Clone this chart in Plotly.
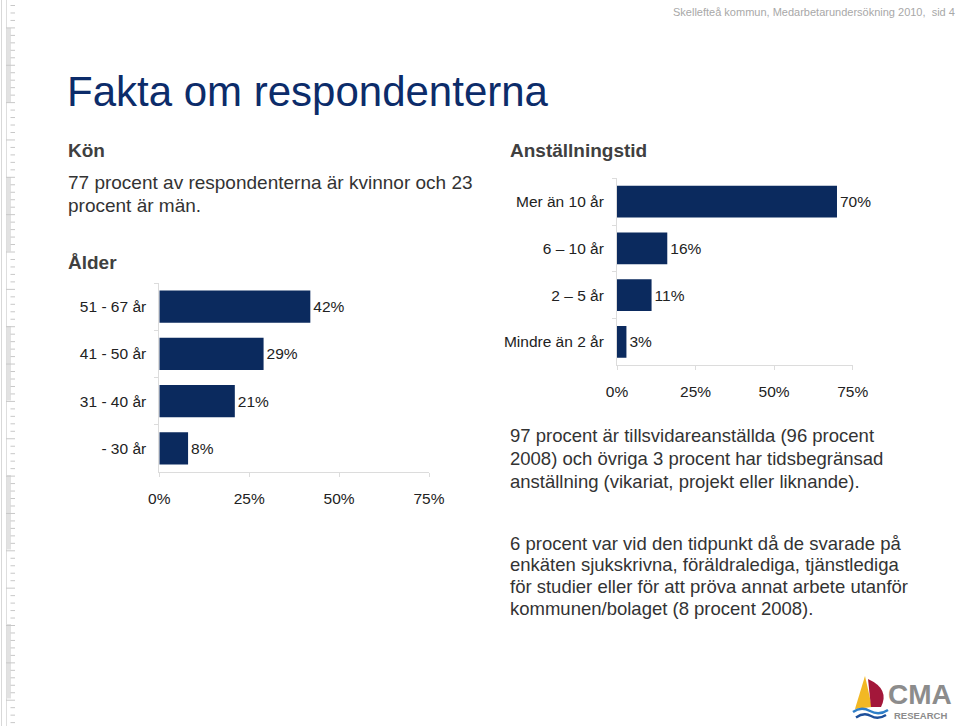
import plotly.graph_objects as go

# ---- data ----
age_categories = ["51 - 67 år", "41 - 50 år", "31 - 40 år", "- 30 år"]
age_values = [42, 29, 21, 8]
tenure_categories = ["Mer än 10 år", "6 – 10 år", "2 – 5 år", "Mindre än 2 år"]
tenure_values = [70, 16, 11, 3]
tick_values = [0, 25, 50, 75]
tick_labels = ["0%", "25%", "50%", "75%"]

W, H = 960, 726
FONT = "Liberation Sans, Arial, sans-serif"
BAR = "#0b2a5e"
AXC = "#dcdcdc"


def px(x):
    return x / W


def py(y):
    return 1 - y / H


fig = go.Figure()

fig.add_trace(go.Bar(
    x=age_values, y=age_categories, orientation="h",
    marker=dict(color=BAR, line=dict(width=0)),
    text=[f"{v}%" for v in age_values], textposition="outside",
    textfont=dict(family=FONT, size=15.5, color="#222222"),
    cliponaxis=False, xaxis="x", yaxis="y", showlegend=False,
))
fig.add_trace(go.Bar(
    x=tenure_values, y=tenure_categories, orientation="h",
    marker=dict(color=BAR, line=dict(width=0)),
    text=[f"{v}%" for v in tenure_values], textposition="outside",
    textfont=dict(family=FONT, size=15.5, color="#222222"),
    cliponaxis=False, xaxis="x2", yaxis="y2", showlegend=False,
))

xcommon = dict(range=[0, 75], tickvals=tick_values, ticktext=tick_labels,
               showgrid=False, zeroline=False, showline=True, linecolor=AXC,
               linewidth=1, ticks="outside", ticklen=4, tickcolor=AXC,
               tickfont=dict(family=FONT, size=15.5, color="#222222"),
               ticklabelstandoff=8, fixedrange=True, automargin=False)
ycommon = dict(showgrid=False, zeroline=False, showline=True, linecolor=AXC,
               linewidth=1, ticks="outside", ticklen=4, tickcolor=AXC,
               tickson="boundaries", autorange="reversed",
               tickfont=dict(family=FONT, size=15.5, color="#222222"),
               ticklabelstandoff=9, fixedrange=True, automargin=False)

fig.update_layout(
    template="none",
    width=W, height=H, autosize=False,
    margin=dict(l=0, r=0, t=0, b=0, pad=0),
    paper_bgcolor="white", plot_bgcolor="white",
    bargap=0.32,
    xaxis=dict(domain=[px(159.3), px(429)], anchor="y", **xcommon),
    yaxis=dict(domain=[py(472), py(283)], anchor="x",
               categoryorder="array", categoryarray=age_categories, **ycommon),
    xaxis2=dict(domain=[px(617), px(852.7)], anchor="y2", **xcommon),
    yaxis2=dict(domain=[py(365.3), py(178.3)], anchor="x2",
                categoryorder="array", categoryarray=tenure_categories, **ycommon),
)

ann = []


def text(x, y, s, size, color="#333333", bold=False, anchor="left", family=FONT):
    if bold:
        s = f"<b>{s}</b>"
    ann.append(dict(x=px(x), y=py(y), xref="paper", yref="paper", text=s,
                    showarrow=False, xanchor=anchor, yanchor="middle",
                    font=dict(family=family, size=size, color=color)))


text(957, 12, "Skellefteå kommun, Medarbetarundersökning 2010,  sid 4", 11, "#a8a8a8", anchor="right")
text(65, 92, "Fakta om respondenterna", 42, "#0c2c6a")
text(66, 151, "Kön", 19, "#404040", bold=True)
text(66, 183, "77 procent av respondenterna är kvinnor och 23", 19)
text(66, 205, "procent är män.", 19)
text(66, 263, "Ålder", 19, "#404040", bold=True)
text(508, 151, "Anställningstid", 19, "#404040", bold=True)

para1 = ["97 procent är tillsvidareanställda (96 procent",
         "2008) och övriga 3 procent har tidsbegränsad",
         "anställning (vikariat, projekt eller liknande)."]
for i, line in enumerate(para1):
    text(508, 435 + i * 23.3, line, 18.5)
para2 = ["6 procent var vid den tidpunkt då de svarade på",
         "enkäten sjukskrivna, föräldralediga, tjänstlediga",
         "för studier eller för att pröva annat arbete utanför",
         "kommunen/bolaget (8 procent 2008)."]
for i, line in enumerate(para2):
    text(508, 543 + i * 21.8, line, 18.5)

# logo text
text(920, 694, "CMA", 28, "#8c8c8c", bold=True, anchor="center")
text(920, 715, "RESEARCH", 9.5, "#8c8c8c", bold=True, anchor="center")

fig.update_layout(annotations=ann)

shapes = []


def P(x, y):
    return f"{px(x):.5f},{py(y):.5f}"


# logo sails and waves
shapes.append(dict(type="path", xref="paper", yref="paper",
                   path=f"M {P(865,676)} L {P(855,709)} L {P(872,707)} Z",
                   fillcolor="#f2b824", line=dict(width=0)))
shapes.append(dict(type="path", xref="paper", yref="paper",
                   path=f"M {P(868,679)} Q {P(890,689)} {P(881,707)} L {P(871,707)} Z",
                   fillcolor="#a3173a", line=dict(width=0)))
shapes.append(dict(type="path", xref="paper", yref="paper",
                   path=f"M {P(853,712)} Q {P(861,706)} {P(870,711)} T {P(888,710)}",
                   line=dict(color="#2f7fc8", width=2.4)))
shapes.append(dict(type="path", xref="paper", yref="paper",
                   path=f"M {P(856,717.5)} Q {P(864,712)} {P(871,716)} T {P(886,715)}",
                   line=dict(color="#1d4f9a", width=2.4)))

# left-edge ruler decoration
shapes.append(dict(type="line", xref="paper", yref="paper",
                   x0=px(1.5), x1=px(1.5), y0=0, y1=1,
                   line=dict(color="#d8d8d8", width=1)))
seg_start = 28
k = 0
while seg_start < H:
    if k % 2 == 0:
        shapes.append(dict(type="rect", xref="paper", yref="paper",
                           x0=px(6), x1=px(11), y0=py(min(seg_start + 74.5, H)), y1=py(seg_start),
                           fillcolor="#e2e2e2", line=dict(width=0)))
    seg_start += 74.5
    k += 1
shapes.append(dict(type="line", xref="paper", yref="paper",
                   x0=px(6.5), x1=px(6.5), y0=0, y1=1,
                   line=dict(color="#dedede", width=1)))
t = 5.5
i = 0
while t < H:
    long = (i - 3) % 5 == 0
    shapes.append(dict(type="line", xref="paper", yref="paper",
                       x0=px(6 if long else 10.5), x1=px(15), y0=py(t), y1=py(t),
                       line=dict(color="#c8c8c8", width=1)))
    t += 7.47
    i += 1

fig.update_layout(shapes=shapes)

fig.write_html(
    "out.html",
    config={"responsive": False, "displayModeBar": False},
    post_script="document.body.style.margin='0';document.body.style.overflow='hidden';",
)
